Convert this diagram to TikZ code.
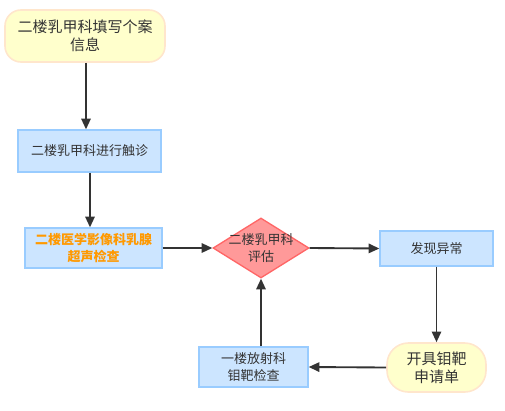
\documentclass[tikz,border=0pt]{standalone}
\usepackage{fontspec}
\setmainfont{Noto Sans CJK SC}
\usetikzlibrary{shapes.geometric,arrows.meta}
\definecolor{yfill}{HTML}{FFFFCC}
\definecolor{ydraw}{HTML}{FFE6CC}
\definecolor{bfill}{HTML}{CCE5FF}
\definecolor{bdraw}{HTML}{99CCFF}
\definecolor{rfill}{HTML}{FF9999}
\definecolor{rdraw}{HTML}{FF6666}
\definecolor{lin}{HTML}{333333}
\definecolor{org}{HTML}{FF9900}
\tikzset{
  every node/.style={font=\fontsize{9.75}{12.5}\selectfont, text=lin, align=center, inner sep=0pt},
  big/.style={font=\fontsize{11.25}{13.5}\selectfont},
  term/.style={draw=ydraw, fill=yfill, line width=1.2pt, rounded corners=12pt},
  proc/.style={draw=bdraw, fill=bfill, line width=1pt},
  conn/.style={draw=lin, line width=1.4pt, -{Triangle[length=8pt,width=7pt]}}
}
\begin{document}
\begin{tikzpicture}[x=0.75pt,y=-0.75pt]
\useasboundingbox (0,0) rectangle (505,410);
\node[term, big, minimum width=160*0.75pt, minimum height=52*0.75pt] (s) at (85,36) {二楼乳甲科填写个案\\信息};
\node[proc, minimum width=143*0.75pt, minimum height=42*0.75pt] (b2) at (89.5,151) {二楼乳甲科进行触诊};
\node[proc, minimum width=137*0.75pt, minimum height=40*0.75pt, text=org, font=\fontsize{9.75}{12.5}\selectfont\bfseries] (b3) at (93.5,248) {二楼医学影像科乳腺\\超声检查};
\node[diamond, draw=rdraw, fill=rfill, line width=1pt, minimum width=96*0.75pt, minimum height=60*0.75pt, inner sep=0pt] (d) at (261,248) {};
\node at (d) {二楼乳甲科\\评估};
\node[proc, minimum width=113*0.75pt, minimum height=35*0.75pt] (f) at (436.5,248.5) {发现异常};
\node[term, big, minimum width=99*0.75pt, minimum height=49*0.75pt, rounded corners=16pt] (k) at (436.5,367.5) {开具钼靶\\申请单};
\node[proc, minimum width=109*0.75pt, minimum height=40*0.75pt] (y) at (253.5,367) {一楼放射科\\钼靶检查};
\draw[conn] (s.south -| 86,0) -- (b2.north -| 86,0);
\draw[conn] (b2.south -| 90,0) -- (b3.north -| 90,0);
\draw[conn] (b3.east) -- (d.west);
\draw[conn] (d.east) -- (f.west);
\draw[conn] (f.south) -- (k.north);
\draw[conn] (k.west) -- (y.east);
\draw[conn] (y.north -| d.south) -- (d.south);
\end{tikzpicture}
\end{document}
